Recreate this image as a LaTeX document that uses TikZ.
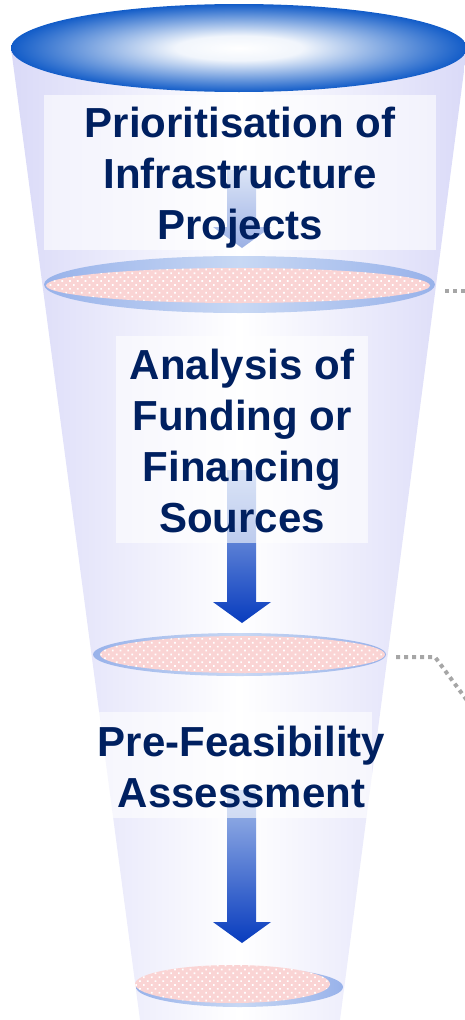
\documentclass[tikz,border=0pt]{standalone}
\usepackage{fontspec}
\setmainfont{Liberation Sans}
\usetikzlibrary{shapes.geometric,patterns.meta}
\definecolor{funnelside}{RGB}{218,218,248}
\definecolor{rimblue}{RGB}{18,92,200}
\definecolor{disclight}{RGB}{200,216,244}
\definecolor{discrim}{RGB}{152,178,234}
\definecolor{discpink}{RGB}{250,212,212}
\definecolor{arrowtop}{RGB}{165,188,234}
\definecolor{arrowbot}{RGB}{8,60,190}
\definecolor{stagetext}{RGB}{0,32,96}
\pgfdeclareradialshading{mouth}{\pgfpoint{0bp}{0bp}}{color(0bp)=(white); color(7bp)=(white!94!rimblue); color(25bp)=(rimblue); color(50bp)=(rimblue)}
\tikzset{
  rim/.style={ellipse, inner sep=0pt, left color=discrim, right color=discrim, middle color=disclight},
  pad/.style={ellipse, inner sep=0pt, preaction={fill=discpink},
    pattern={Dots[angle=45,distance=5.5pt,radius=1.2pt]}, pattern color=white},
  stage/.style={align=center, text=stagetext, font=\fontsize{42}{51}\selectfont\bfseries},
  backing/.style={fill=white, fill opacity=0.6},
  leader/.style={draw=gray!70, line width=4pt, dash pattern=on 4pt off 4pt, shorten <=10pt}
}
\begin{document}
\begin{tikzpicture}[x=1pt,y=-1pt]
  \useasboundingbox (0,0) rectangle (465,1020);
  \clip (0,0) rectangle (465,1020);
  \shade[left color=funnelside, right color=funnelside, middle color=white]
    (11,48) -- (467,48) -- (340,1020) -- (140,1020) -- cycle;
  \shade[shading=mouth] (239,48) ellipse [x radius=228, y radius=44];
  \foreach \ya/\yb in {170/227, 470/602, 790/922}
    \shade[top color=arrowtop, bottom color=arrowbot]
      (227,\ya) -- (256,\ya) -- (256,\yb) -- (271,\yb) -- (242,\yb+21)
      -- (213,\yb) -- (227,\yb) -- cycle;
  \fill[backing] (44,95) rectangle (436,250);
  \fill[backing] (116,336) rectangle (368,543);
  \fill[backing] (98,712) rectangle (372,818);
  \node[stage] (s1) at (240,178) {Prioritisation of\\Infrastructure\\Projects};
  \node[stage] (s2) at (242,441) {Analysis of\\Funding or\\Financing\\Sources};
  \node[stage] (s3) at (241.5,767) {Pre-Feasibility\\Assessment};
  \node[rim, minimum width=391pt, minimum height=57pt] (d1) at (239.5,284.5) {};
  \node[pad, minimum width=384pt, minimum height=35pt] (p1) at (238,285.5) {};
  \node[rim, minimum width=293pt, minimum height=43pt] (d2) at (239.5,654.5) {};
  \node[pad, minimum width=285pt, minimum height=37pt] (p2) at (242.5,654.5) {};
  \node[rim, minimum width=207pt, minimum height=40pt] (d3) at (239.5,987) {};
  \node[pad, minimum width=195pt, minimum height=38pt] (p3) at (232.5,984) {};
  \coordinate (q1) at (480,290.5);
  \coordinate (k2) at (435,657);
  \coordinate (q2) at (480,718);
  \draw[leader] ([yshift=-6pt]d1.east) -- (q1);
  \draw[leader] ([yshift=-2.5pt]d2.east) -- (k2) -- (q2);
\end{tikzpicture}
\end{document}
